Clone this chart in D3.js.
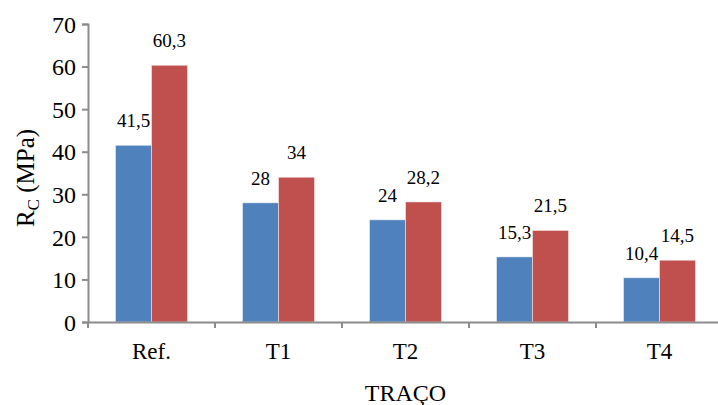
<!DOCTYPE html>
<html>
<head>
<meta charset="utf-8">
<script src="https://cdn.jsdelivr.net/npm/d3@7"></script>
<style>
  html, body { margin: 0; padding: 0; background: #fff; }
  svg { display: block; }
</style>
</head>
<body>
<svg id="chart" width="718" height="405"></svg>
<script>
// Compressive strength per mix
const categories = ["Ref.", "T1", "T2", "T3", "T4"];
const seriesKeys = ["a", "b"];
const valuesA = [41.5, 28, 24, 15.3, 10.4];
const valuesB = [60.3, 34, 28.2, 21.5, 14.5];
const labelsA = ["41,5", "28", "24", "15,3", "10,4"];
const labelsB = ["60,3", "34", "28,2", "21,5", "14,5"];
const yTicks = [0, 10, 20, 30, 40, 50, 60, 70];
const colors = ["#4F81BD", "#C0504D"];

const FONT = "'Liberation Serif', 'Times New Roman', serif";

const svg = d3.select("#chart").style("font-family", FONT);
const margin = { left: 88, right: -5, top: 24, bottom: 83 };
const width = 718 - margin.left - margin.right;
const height = 405 - margin.top - margin.bottom;

const g = svg.append("g").attr("transform", `translate(${margin.left},${margin.top})`);

const x0 = d3.scaleBand().domain(categories).range([0, width]).padding(0);
const x1 = d3.scaleBand().domain(seriesKeys).range([0, x0.bandwidth()])
  .paddingInner(0).paddingOuter(0.764);
const y = d3.scaleLinear().domain([0, 70]).range([height, 0]);

const rows = categories.map((c, i) => ({
  cat: c,
  bars: [
    { key: "a", v: valuesA[i], label: labelsA[i], color: colors[0] },
    { key: "b", v: valuesB[i], label: labelsB[i], color: colors[1] }
  ]
}));

// Bars
const groups = g.selectAll(".grp").data(rows).join("g")
  .attr("class", "grp")
  .attr("transform", d => `translate(${x0(d.cat)},0)`);

groups.selectAll("rect").data(d => d.bars).join("rect")
  .attr("x", d => x1(d.key))
  .attr("y", d => y(d.v))
  .attr("width", x1.bandwidth())
  .attr("height", d => height - y(d.v))
  .attr("fill", d => d.color)
  .attr("stroke", "rgba(255,255,255,0.45)")
  .attr("stroke-width", 1);

// Value labels
groups.selectAll("text.val").data(d => d.bars).join("text")
  .attr("class", "val")
  .attr("x", d => x1(d.key) + x1.bandwidth() / 2)
  .attr("y", d => y(d.v) - 18)
  .attr("text-anchor", "middle")
  .style("font-family", FONT)
  .style("font-size", "19px")
  .attr("fill", "#000")
  .text(d => d.label);

// Y axis
const yAxis = g.append("g")
  .call(d3.axisLeft(y).tickValues(yTicks).tickSize(6).tickPadding(6).tickFormat(d3.format("d")));
yAxis.attr("font-family", null);
yAxis.select(".domain").attr("stroke", "#8c8c8c").attr("stroke-width", 2);
yAxis.selectAll(".tick line").attr("stroke", "#8c8c8c").attr("stroke-width", 2);
yAxis.selectAll(".tick text")
  .style("font-family", FONT)
  .style("font-size", "24px")
  .attr("dy", "0.34em")
  .attr("fill", "#000");

// X axis
const xAxis = g.append("g").attr("transform", `translate(0,${height})`)
  .call(d3.axisBottom(x0).tickSize(0).tickPadding(21));
xAxis.attr("font-family", null);
xAxis.select(".domain").attr("stroke", "#8c8c8c").attr("stroke-width", 2);
xAxis.selectAll(".tick text")
  .style("font-family", FONT)
  .style("font-size", "23px")
  .attr("fill", "#000");

// Category boundary ticks
const boundaries = d3.range(categories.length + 1).map(i => i * x0.step());
g.append("g").selectAll("line").data(boundaries).join("line")
  .attr("x1", d => d).attr("x2", d => d)
  .attr("y1", height).attr("y2", height + 6)
  .attr("stroke", "#8c8c8c").attr("stroke-width", 2);

// Axis titles
svg.append("text")
  .attr("transform", "translate(34,178) rotate(-90)")
  .attr("text-anchor", "middle")
  .style("font-family", FONT)
  .style("font-size", "25px")
  .attr("fill", "#000")
  .call(t => {
    t.append("tspan").text("R");
    t.append("tspan").attr("dy", 5).style("font-size", "17px").text("C");
    t.append("tspan").attr("dy", -5).text(" (MPa)");
  });

svg.append("text")
  .attr("x", margin.left + (x0.step() * categories.length) / 2)
  .attr("y", 401)
  .attr("text-anchor", "middle")
  .style("font-family", FONT)
  .style("font-size", "24px")
  .attr("fill", "#000")
  .text("TRAÇO");
</script>
</body>
</html>
